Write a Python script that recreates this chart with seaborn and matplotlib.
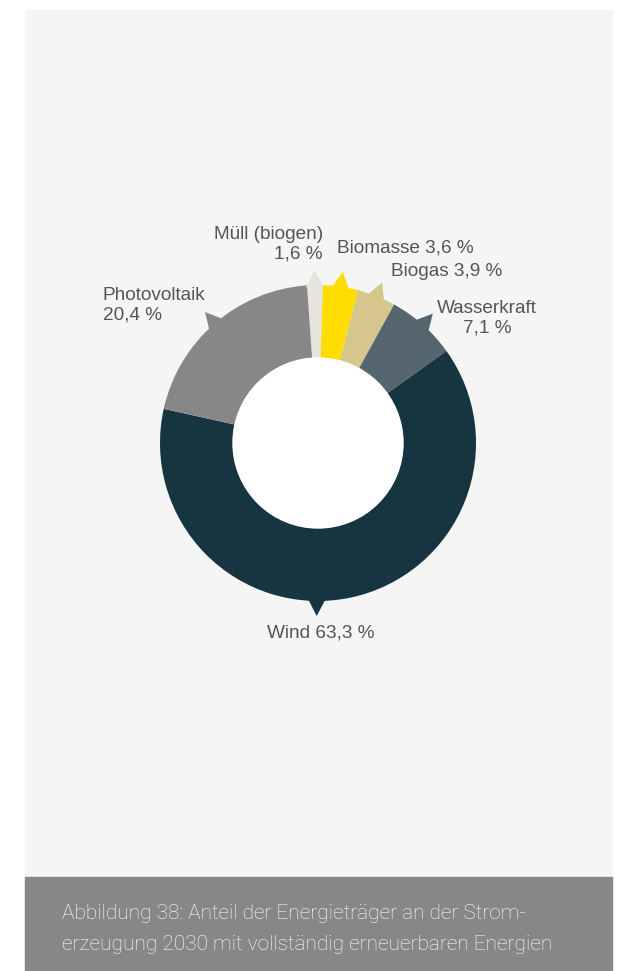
import numpy as np
import matplotlib
matplotlib.use("Agg")
import matplotlib.pyplot as plt
from matplotlib.patches import Polygon, Circle, Rectangle
import seaborn as sns

sns.set_theme(style="white")
plt.rcParams['font.family'] = ['Liberation Sans', 'DejaVu Sans']

# Daten: Anteile der Energieträger (im Uhrzeigersinn ab oben)
traeger = ["Müll (biogen)", "Biomasse", "Biogas", "Wasserkraft", "Wind", "Photovoltaik"]
anteile = [1.6, 3.6, 3.9, 7.1, 63.3, 20.4]
farben = ["#e7e3dd", "#ffdd00", "#d5c68b", "#55666e", "#163540", "#878787"]
beschriftungen = ["Müll (biogen)\n1,6 %", "Biomasse 3,6 %", "Biogas 3,9 %",
                  "Wasserkraft\n7,1 %", "Wind 63,3 %", "Photovoltaik\n20,4 %"]
bildunterschrift = ("Abbildung 38: Anteil der Energieträger an der Strom-\n"
                    "erzeugung 2030 mit vollständig erneuerbaren Energien")

W, H = 627, 971
fig = plt.figure(figsize=(W / 100, H / 100), dpi=100)
fig.patch.set_facecolor("white")
ax = fig.add_axes([0, 0, 1, 1])

# Hintergrundflächen
ax.add_patch(Rectangle((25, H - 877), 587, 867, color="#f5f5f5", zorder=0))
ax.add_patch(Rectangle((25, 0), 587, H - 877, color="#878787", zorder=0))

cx, cy = 318, H - 443
r_out, r_in = 158, 85

wedges, _ = ax.pie(anteile, colors=farben, startangle=94, counterclock=False,
                   center=(cx, cy), radius=r_out,
                   wedgeprops=dict(width=r_out - r_in, edgecolor="none", linewidth=0))
ax.add_patch(Circle((cx, cy), r_in, color="white", zorder=3))

# kleine Zeiger an den Segmenten
zeiger_versatz = [0, 0, 0, 0, -12, 0]
for w, farbe, dv in zip(wedges, farben, zeiger_versatz):
    mid = np.deg2rad((w.theta1 + w.theta2) / 2 + dv)
    half = np.deg2rad(3.3)
    p1 = (cx + (r_out - 2) * np.cos(mid - half), cy + (r_out - 2) * np.sin(mid - half))
    p2 = (cx + (r_out - 2) * np.cos(mid + half), cy + (r_out - 2) * np.sin(mid + half))
    tip = (cx + (r_out + 15) * np.cos(mid), cy + (r_out + 15) * np.sin(mid))
    ax.add_patch(Polygon([p1, tip, p2], closed=True, color=farbe, zorder=2, lw=0))

txt = dict(color="#555555", fontsize=13.7, linespacing=1.2)
ax.text(323, H - 244, beschriftungen[0], ha="right", va="center", multialignment="right", **txt)
ax.text(337, H - 248, beschriftungen[1], ha="left", va="center", **txt)
ax.text(391, H - 271, beschriftungen[2], ha="left", va="center", **txt)
ax.text(487, H - 318, beschriftungen[3], ha="center", va="center", multialignment="center", **txt)
ax.text(321, H - 633, beschriftungen[4], ha="center", va="center", **txt)
ax.text(103, H - 305, beschriftungen[5], ha="left", va="center", multialignment="left", **txt)

ax.text(62, H - 929, bildunterschrift, ha="left", va="center", color="white",
        fontsize=15, family=["Roboto", "DejaVu Sans"], fontweight="light", linespacing=1.78)

ax.set_xlim(0, W)
ax.set_ylim(0, H)
ax.set_aspect("auto")
ax.axis("off")

fig.savefig("out.png", dpi=100)
